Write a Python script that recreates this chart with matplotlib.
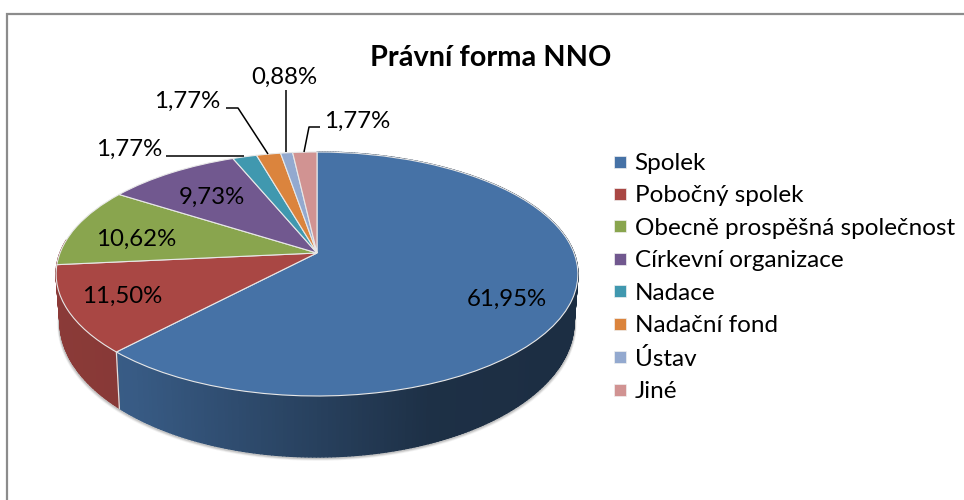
import numpy as np
import matplotlib
matplotlib.use('Agg')
import matplotlib.pyplot as plt
from matplotlib.collections import PolyCollection
from matplotlib.lines import Line2D
from matplotlib.transforms import Transform

plt.rcParams['font.family'] = ['Lato', 'DejaVu Sans']

labels = ['Spolek', 'Pobočný spolek', 'Obecně prospěšná společnost', 'Církevní organizace',
          'Nadace', 'Nadační fond', 'Ústav', 'Jiné']
values = [61.95, 11.50, 10.62, 9.73, 1.77, 1.77, 0.88, 1.77]
value_labels = ['61,95%', '11,50%', '10,62%', '9,73%', '1,77%', '1,77%', '0,88%', '1,77%']
colors = ['#4672A6', '#A94744', '#89A54E', '#71588F', '#4098AF', '#DB843D', '#93A9CF', '#D19392']

W, H = 964, 500
APEX_X, APEX_Y = 317, 253
A, B, K = 257, 118.4, 0.172   # tilted disc, seen in perspective


def tilt(u, v):
    """unit circle to picture pixels"""
    d = 1 + K * v
    return APEX_X + A * u / d, APEX_Y - B * v / d


def wall_bottom(x, y):
    """lower edge of the side wall under a rim point"""
    return APEX_X + 0.985 * (x - APEX_X), y + 48 + (y - 274) * 0.1066


class Tilt(Transform):
    input_dims = output_dims = 2

    def transform_non_affine(self, values):
        x, y = tilt(values[:, 0], values[:, 1])
        return np.column_stack([x, y])


fig = plt.figure(figsize=(W / 100, H / 100), dpi=100)
ax = fig.add_axes([0, 0, 1, 1])

wedges, _ = ax.pie(values, colors=colors, startangle=90, counterclock=False, radius=1,
                   wedgeprops={'edgecolor': '#e8e8e8', 'linewidth': 0.8, 'zorder': 5})
for w in wedges:
    w.set_transform(Tilt() + ax.transData)
ax.set_aspect('auto')
ax.set_xlim(0, W)
ax.set_ylim(H, 0)
ax.set_axis_off()

# chart frame, only top and left are in the crop
ax.plot([7, 7, W], [H, 14, 14], color='#8c8c8c', linewidth=1.6, zorder=0, solid_joinstyle='miter')

ends = 90 - np.cumsum(values) / np.sum(values) * 360
starts = np.r_[90, ends[:-1]]

# soft shadow under the side wall
t = np.radians(np.linspace(185, 355, 240))
sx, sy = wall_bottom(*tilt(np.cos(t), np.sin(t)))
for i, a in enumerate([0.08, 0.14, 0.22]):
    ax.plot(APEX_X + (sx - APEX_X) * (1 + (3 - i) * 0.002), sy + (3 - i) * 0.9, color='#555555', alpha=a,
            linewidth=1.6, zorder=1, solid_capstyle='butt')

# side wall, only the two front slices show, the red one wraps round the left edge
polys, cols = [], []
for i, (s, e, c) in enumerate(zip(starts[:2], ends[:2], colors[:2])):
    if i == 1:
        e -= 12
    steps = np.radians(np.linspace(s, e, max(2, int((s - e) / 0.7))))
    for r0, r1 in zip(steps[:-1], steps[1:]):
        x0, y0 = tilt(np.cos(r0), np.sin(r0))
        x1, y1 = tilt(np.cos(r1), np.sin(r1))
        polys.append([(x0, y0), (x1, y1), wall_bottom(x1, y1), wall_bottom(x0, y0)])
        shade = np.interp((x0 + x1) / 2, [57, 130, 430, 578], [0.82, 0.80, 0.42, 0.40])
        cols.append(tuple(np.array(matplotlib.colors.to_rgb(c)) * shade))
ax.add_collection(PolyCollection(polys, facecolors=cols, edgecolors=cols, linewidths=1.0, zorder=2))

# seam between the wall segments
r = np.radians(ends[0])
x, y = tilt(np.cos(r), np.sin(r))
bx, by = wall_bottom(x, y)
ax.plot([x, bx], [y, by], color='#e0e0e0', linewidth=0.9, zorder=3)

# labels inside the pie
inside = {0: (507, 299), 1: (122, 296), 2: (136, 239), 3: (212, 197)}
for i, pos in inside.items():
    ax.text(*pos, value_labels[i], fontsize=17.3, color='black', ha='center', va='center', zorder=6)

# labels outside with leader lines
outside = {4: ((129, 149), [(166, 156), (244, 156)]),
           5: ((187, 101), [(226, 108), (238, 108), (268, 154)]),
           6: ((284, 77), [(286, 90), (286, 152)]),
           7: ((357, 121), [(320, 127), (309, 127), (304, 152)])}
for i, (pos, path) in outside.items():
    ax.text(*pos, value_labels[i], fontsize=17.3, color='black', ha='center', va='center', zorder=6)
    pts = np.array(path)
    ax.plot(pts[:, 0], pts[:, 1], color='black', linewidth=1.1, zorder=6, solid_capstyle='butt')

ax.text(491, 58, 'Právní forma NNO', fontsize=20.8, fontweight='bold', ha='center', va='center', zorder=6)

handles = [Line2D([], [], linestyle='', marker='s', markersize=9, markerfacecolor=c,
                  markeredgecolor='#f0f0f0', markeredgewidth=0.5) for c in colors]
fig.legend(handles, labels, loc='upper left', bbox_to_anchor=(605 / W, 1 - 153 / H), frameon=False,
           fontsize=17.5, labelspacing=0.47, handletextpad=0.02, borderpad=0, borderaxespad=0, handlelength=1.2)

fig.savefig('out.png', dpi=100, facecolor='white')
